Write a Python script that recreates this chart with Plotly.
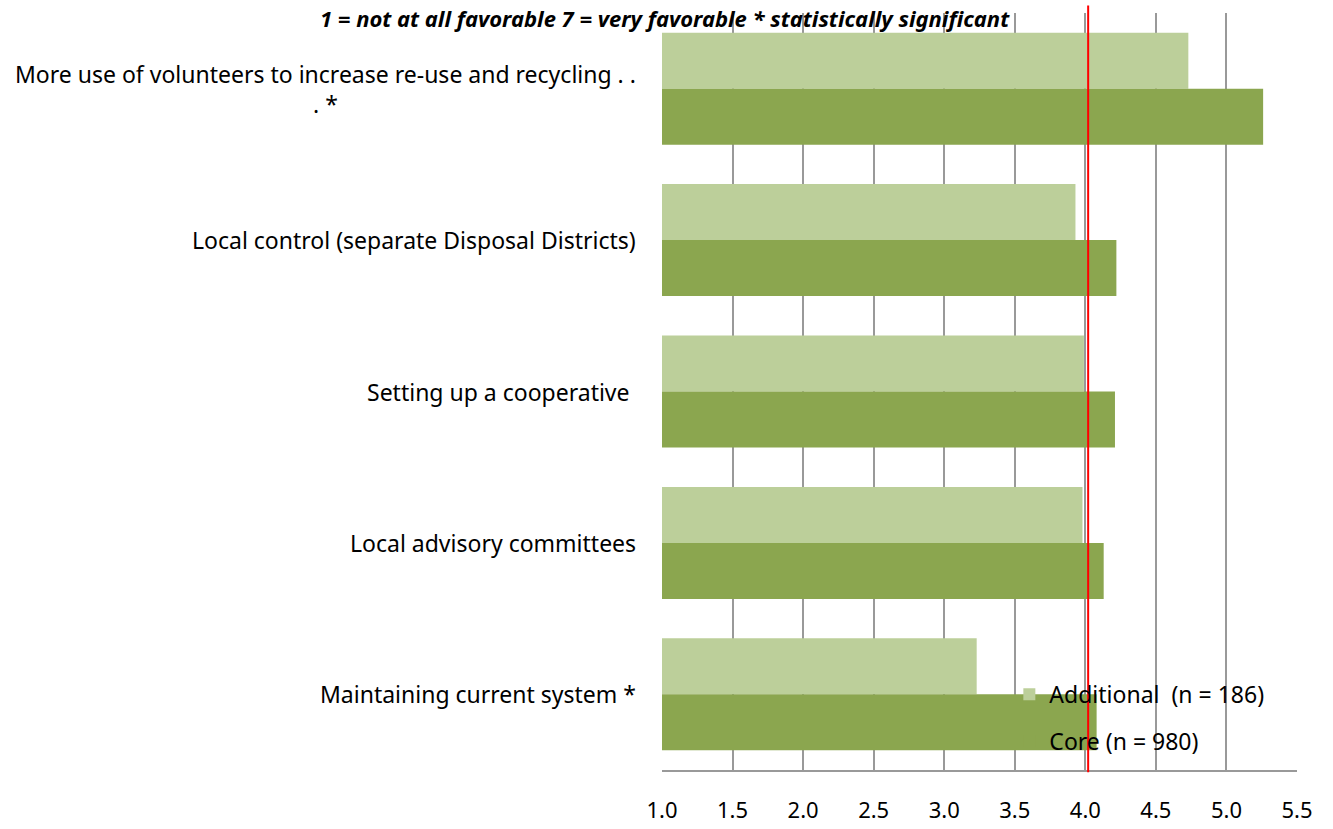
import plotly.graph_objects as go

categories = [
    "More use of volunteers to increase re-use and recycling . .<br>. *",
    "Local control (separate Disposal Districts)",
    "Setting up a cooperative ",
    "Local advisory committees",
    "Maintaining current system *",
]
additional = [4.73, 3.93, 3.99, 3.98, 3.23]
core = [5.26, 4.22, 4.21, 4.13, 4.08]
series_names = ["Additional  (n = 186)", "Core (n = 980)"]
reference_value = 4.02
x_ticks = [1.0, 1.5, 2.0, 2.5, 3.0, 3.5, 4.0, 4.5, 5.0, 5.5]
title_text = "1 = not at all favorable 7 = very favorable * statistically significant"

FONT = "Noto Sans"
ids = list(range(len(categories)))

fig = go.Figure()
fig.add_trace(go.Bar(
    y=ids, x=[v - 1 for v in additional], base=1, orientation="h",
    name=series_names[0], marker=dict(color="#BCCF9A", line=dict(width=0)),
    legendgroup="a",
))
fig.add_trace(go.Bar(
    y=ids, x=[v - 1 for v in core], base=1, orientation="h",
    name=series_names[1], marker=dict(color="#8BA64F", line=dict(width=0)),
    legendgroup="b",
))

# category labels, right-aligned next to the plot, centered line by line
for i, label in zip(ids, categories):
    fig.add_annotation(
        x=0, xref="paper", xanchor="right", xshift=-24,
        y=i, yref="y", yanchor="middle",
        text=label, showarrow=False, align="center",
        font=dict(family=FONT, size=23, color="#000000"),
    )

fig.add_shape(
    type="line", xref="x", yref="paper",
    x0=reference_value, x1=reference_value, y0=-0.003, y1=1.01,
    line=dict(color="#FF0000", width=2),
)

# scale note across the top
fig.add_annotation(
    x=(665 - 662) / (1297 - 662), xref="paper", y=0.993, yref="paper",
    text="<b><i>" + title_text + "</i></b>", showarrow=False,
    xanchor="center", yanchor="middle",
    font=dict(family=FONT, size=22, color="#000000"),
)

fig.update_layout(
    width=1333, height=829,
    margin=dict(l=662, r=36, t=13, b=59, autoexpand=False),
    paper_bgcolor="white", plot_bgcolor="white",
    barmode="group", bargap=0.26, bargroupgap=0,
    showlegend=True,
    legend=dict(
        x=0.547, y=0.069, xanchor="left", yanchor="middle",
        bgcolor="rgba(0,0,0,0)", font=dict(family=FONT, size=23, color="#000000"),
        traceorder="grouped", tracegroupgap=14, itemwidth=30,
    ),
    xaxis=dict(
        range=[1.0, 5.5], tickvals=x_ticks, tickformat=".1f",
        showgrid=True, gridcolor="#999999", gridwidth=1.5,
        showline=True, linecolor="#999999", linewidth=1.5,
        ticks="", ticklabelstandoff=20, zeroline=False, automargin=False,
        tickfont=dict(family=FONT, size=22, color="#000000"),
    ),
    yaxis=dict(
        range=[len(categories) - 0.5, -0.5], tickvals=ids, showticklabels=False,
        showgrid=False, zeroline=False, showline=False, automargin=False,
    ),
)

fig.write_html("out.html")
